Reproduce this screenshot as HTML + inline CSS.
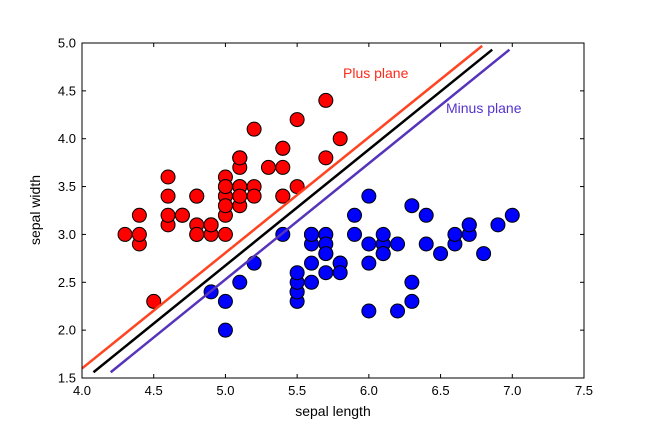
<!DOCTYPE html>
<html><head><meta charset="utf-8"><style>
body{margin:0;background:#fff;}
svg{font-family:"Liberation Sans",sans-serif;display:block;}
</style></head><body>
<svg id="chart" width="648" height="432">
<g id="g"></g>
<text x="333" y="416" text-anchor="middle" font-size="14">sepal length</text>
<text x="40" y="210" text-anchor="middle" font-size="14" transform="rotate(-90 40 210)">sepal width</text>
<text x="343" y="78" font-size="14" fill="#ff2a1a">Plus plane</text>
<text x="446" y="113" font-size="14" fill="#5533cc">Minus plane</text>
</svg>
<script>
const setosaX=[5.1,4.9,4.7,4.6,5.0,5.4,4.6,5.0,4.4,4.9,5.4,4.8,4.8,4.3,5.8,5.7,5.4,5.1,5.7,5.1,5.4,5.1,4.6,5.1,4.8,5.0,5.0,5.2,5.2,4.7,4.8,5.4,5.2,5.5,4.9,5.0,5.5,4.9,4.4,5.1,5.0,4.5,4.4,5.0,5.1,4.8,5.1,4.6,5.3,5.0];
const setosaY=[3.5,3.0,3.2,3.1,3.6,3.9,3.4,3.4,2.9,3.1,3.7,3.4,3.0,3.0,4.0,4.4,3.9,3.5,3.8,3.8,3.4,3.7,3.6,3.3,3.4,3.0,3.4,3.5,3.4,3.2,3.1,3.4,4.1,4.2,3.1,3.2,3.5,3.1,3.0,3.4,3.5,2.3,3.2,3.5,3.8,3.0,3.8,3.2,3.7,3.3];
const versX=[7.0,6.4,6.9,5.5,6.5,5.7,6.3,4.9,6.6,5.2,5.0,5.9,6.0,6.1,5.6,6.7,5.6,5.8,6.2,5.6,5.9,6.1,6.3,6.1,6.4,6.6,6.8,6.7,6.0,5.7,5.5,5.5,5.8,6.0,5.4,6.0,6.7,6.3,5.6,5.5,5.5,6.1,5.8,5.0,5.6,5.7,5.7,6.2,5.1,5.7];
const versY=[3.2,3.2,3.1,2.3,2.8,2.8,3.3,2.4,2.9,2.7,2.0,3.0,2.2,2.9,2.9,3.1,3.0,2.7,2.2,2.5,3.2,2.8,2.5,2.8,2.9,3.0,2.8,3.0,2.9,2.6,2.4,2.4,2.7,2.7,3.0,3.4,3.1,2.3,3.0,2.5,2.6,3.0,2.6,2.3,2.7,3.0,2.9,2.9,2.5,2.8];
const xTicks=[4.0,4.5,5.0,5.5,6.0,6.5,7.0,7.5];
const yTicks=[1.5,2.0,2.5,3.0,3.5,4.0,4.5,5.0];
const plusLine=[[4.0,1.6],[6.79,4.97]];
const centerLine=[[4.08,1.56],[6.86,4.93]];
const minusLine=[[4.2,1.56],[6.98,4.93]];
const L=82,R=584,T=43,B=378;
const sx=v=>L+(v-4.0)/3.5*(R-L);
const sy=v=>B-(v-1.5)/3.5*(B-T);
const NS="http://www.w3.org/2000/svg";
const g=document.getElementById('g');
function mk(t,a){const e=document.createElementNS(NS,t);for(const k in a)e.setAttribute(k,a[k]);g.appendChild(e);return e;}
function line(pts,color,name){const e=mk('line',{x1:sx(pts[0][0]),y1:sy(pts[0][1]),x2:sx(pts[1][0]),y2:sy(pts[1][1]),stroke:color,'stroke-width':2.5});

}
function pts(xs,ys,color,name){for(let i=0;i<xs.length;i++){const c=mk('circle',{cx:sx(xs[i]),cy:sy(ys[i]),r:7,fill:color,stroke:'#000','stroke-width':1});

}}
pts(setosaX,setosaY,'#ff0000','setosa-point');
pts(versX,versY,'#0000ff','versicolor-point');
line(plusLine,'#ff4422','plus-plane-line');
line(centerLine,'#000000','decision-boundary-line');
line(minusLine,'#5533bb','minus-plane-line');
const fr=mk('rect',{x:L,y:T,width:R-L,height:B-T,fill:'none',stroke:'#000','stroke-width':1});


xTicks.forEach(v=>{const x=sx(v);
mk('line',{x1:x,y1:B,x2:x,y2:B-4,stroke:'#000'});mk('line',{x1:x,y1:T,x2:x,y2:T+4,stroke:'#000'});
const t=mk('text',{x:x,y:B+17,'text-anchor':'middle','font-size':13});t.textContent=v.toFixed(1);

});
yTicks.forEach(v=>{const y=sy(v);
mk('line',{x1:L,y1:y,x2:L+4,y2:y,stroke:'#000'});mk('line',{x1:R,y1:y,x2:R-4,y2:y,stroke:'#000'});
const t=mk('text',{x:L-6,y:y+4.5,'text-anchor':'end','font-size':13});t.textContent=v.toFixed(1);

});
</script>
</body></html>
